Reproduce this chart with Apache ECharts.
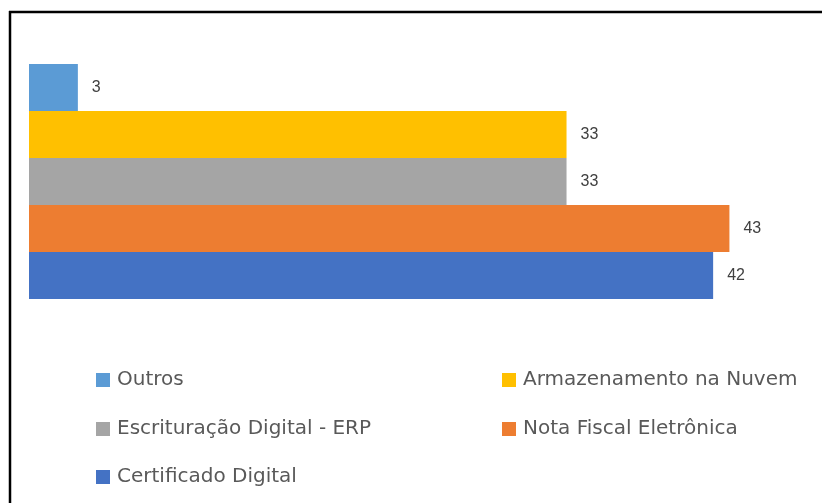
<!DOCTYPE html>
<html>
<head>
<meta charset="utf-8">
<script src="https://cdn.jsdelivr.net/npm/echarts@6/dist/echarts.min.js"></script>
<style>
  html, body { margin: 0; padding: 0; background: #fff; }
  #chart { width: 822px; height: 503px; }
</style>
</head>
<body>
<div id="chart"></div>
<script>
// Series, top bar first
const seriesNames = ['Outros', 'Armazenamento na Nuvem', 'Escrituração Digital - ERP', 'Nota Fiscal Eletrônica', 'Certificado Digital'];
const seriesValues = [3, 33, 33, 43, 42];
const seriesColors = ['#5B9BD5', '#FFC000', '#A5A5A5', '#ED7D31', '#4472C4'];
const categories = [''];

// Legend layout: [left, centre y] per entry
const legendSpots = [[96, 380], [502, 380], [96, 429], [502, 429], [96, 477]];

const chart = echarts.init(document.getElementById('chart'), null, { renderer: 'canvas' });

const series = seriesNames.map((name, i) => ({
  name,
  type: 'bar',
  data: [seriesValues[i]],
  itemStyle: { color: seriesColors[i] },
  barGap: '0%',
  barCategoryGap: '0%',
  label: {
    show: true,
    position: 'right',
    distance: 14,
    color: '#404040',
    fontFamily: 'Liberation Sans',
    fontSize: 16
  }
}));

const legends = seriesNames.map((name, i) => ({
  data: [name],
  left: legendSpots[i][0],
  top: legendSpots[i][1] - 11,
  padding: 0,
  itemWidth: 14,
  itemHeight: 14,
  icon: 'rect',
  selectedMode: false,
  textStyle: {
    color: '#595959',
    fontFamily: 'DejaVu Sans',
    fontSize: 20,
    lineHeight: 22,
    padding: [0, 0, 0, 2]
  }
}));

chart.setOption({
  animation: false,
  backgroundColor: '#fff',
  grid: { left: 29, top: 64, height: 235, width: 733 },
  xAxis: { type: 'value', min: 0, max: 45, show: false },
  yAxis: { type: 'category', data: categories, inverse: true, show: false },
  legend: legends,
  series: series,
  graphic: [
    { type: 'line', shape: { x1: 9, y1: 12, x2: 822, y2: 12 }, style: { stroke: '#000', lineWidth: 2.5 } },
    { type: 'line', shape: { x1: 10, y1: 11, x2: 10, y2: 503 }, style: { stroke: '#000', lineWidth: 2.5 } }
  ]
});
</script>
</body>
</html>
